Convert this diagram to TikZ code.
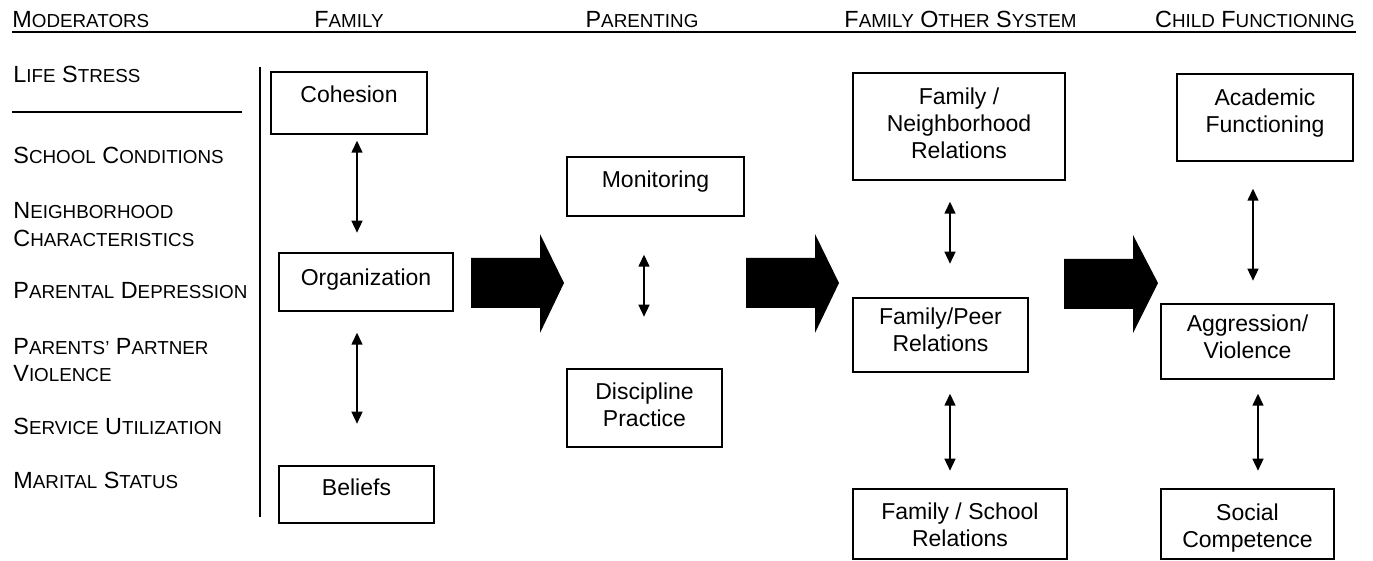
\documentclass[tikz,border=0pt]{standalone}
\usepackage{fontspec}
\setmainfont{Liberation Sans}
\usetikzlibrary{arrows.meta}
\newcommand\sml[1]{{\fontsize{9.4}{11}\selectfont #1}}
\newcommand\bt[2]{\raisebox{#1}[\height][\depth]{\begin{tabular}{@{}c@{}}#2\end{tabular}}}
\begin{document}
\begin{tikzpicture}[x=0.5pt,y=-0.5pt,
  box/.style={draw, line width=0.7pt, inner sep=0pt, font=\fontsize{11.5}{13.5}\selectfont},
  dbl/.style={line width=0.7pt, {Triangle[length=6pt,width=5.5pt]}-{Triangle[length=6pt,width=5.5pt]}},
  hdr/.style={anchor=base, inner sep=0pt, font=\fontsize{11.7}{13.5}\selectfont},
  mod/.style={anchor=base west, inner sep=0pt, font=\fontsize{11.7}{13.5}\selectfont},
  rule/.style={line width=0.8pt},
  sep/.style={line width=0.7pt},
  bigarrow/.style={fill=black}]
\useasboundingbox (0,0) rectangle (1373,561);

% headers
\node[mod] (h1) at (12,28) {M\sml{ODERATORS}};
\node[hdr] (h2) at (349,28) {F\sml{AMILY}};
\node[hdr] (h3) at (642,28) {P\sml{ARENTING}};
\node[hdr] (h4) at (960.5,28) {F\sml{AMILY} O\sml{THER} S\sml{YSTEM}};
\node[hdr] (h5) at (1255,28) {C\sml{HILD} F\sml{UNCTIONING}};
\draw[rule] (12,32) -- (1356,32);

% moderators
\node[mod] (m1) at (13,83) {L\sml{IFE} S\sml{TRESS}};
\draw[sep] (12,112) -- (242,112);
\node[mod] (m2) at (13,164) {S\sml{CHOOL} C\sml{ONDITIONS}};
\node[mod] (m3) at (13,219) {N\sml{EIGHBORHOOD}};
\node[mod] (m4) at (13,247) {C\sml{HARACTERISTICS}};
\node[mod] (m5) at (13,299) {P\sml{ARENTAL} D\sml{EPRESSION}};
\node[mod] (m6) at (13,355) {P\sml{ARENTS'} P\sml{ARTNER}};
\node[mod] (m7) at (13,382) {V\sml{IOLENCE}};
\node[mod] (m8) at (13,435) {S\sml{ERVICE} U\sml{TILIZATION}};
\node[mod] (m9) at (13,489) {M\sml{ARITAL} S\sml{TATUS}};
\draw[sep] (260,67) -- (260,517);

% family
\node[box, minimum width=78pt, minimum height=31pt] (coh) at (349,103) {\bt{2.7pt}{Cohesion}};
\node[box, minimum width=87pt, minimum height=29pt] (org) at (366,282) {\bt{0.7pt}{Organization}};
\node[box, minimum width=77.5pt, minimum height=28.5pt] (bel) at (356.5,494.5) {\bt{2pt}{Beliefs}};
\draw[dbl] ([xshift=4pt,yshift=-3pt]coh.south) -- ++(0,92);
\draw[dbl] ([xshift=-4.5pt,yshift=-10.5pt]org.south) -- ++(0,91);

% parenting
\node[box, minimum width=88.5pt, minimum height=29.5pt] (mon) at (655.5,186.5) {\bt{2pt}{Monitoring}};
\node[box, minimum width=77.5pt, minimum height=39pt] (dis) at (644.5,408) {\bt{0pt}{Discipline\\Practice}};
\draw[dbl] ([xshift=-5.75pt,yshift=-19pt]mon.south) -- ++(0,62);

% family other system
\node[box, minimum width=106pt, minimum height=53.5pt] (fn) at (959,126.5) {\bt{0pt}{Family /\\Neighborhood\\Relations}};
\node[box, minimum width=87.5pt, minimum height=37pt] (fp) at (940.5,335) {\bt{1pt}{Family/Peer\\Relations}};
\node[box, minimum width=107pt, minimum height=35pt] (fs) at (960,524) {\bt{-2pt}{Family / School\\Relations}};
\draw[dbl] ([xshift=-4.5pt,yshift=-10.5pt]fn.south) -- ++(0,62);
\draw[dbl] ([xshift=4.75pt,yshift=-10.5pt]fp.south) -- ++(0,77);

% child functioning
\node[box, minimum width=88pt, minimum height=43.5pt] (ac) at (1265,117.5) {\bt{1.7pt}{Academic\\Functioning}};
\node[box, minimum width=86.5pt, minimum height=37.5pt] (ag) at (1247.5,341.5) {\bt{1pt}{Aggression/\\Violence}};
\node[box, minimum width=86.5pt, minimum height=35pt] (sc) at (1247.5,524) {\bt{-2.5pt}{Social\\Competence}};
\draw[dbl] ([xshift=-6pt,yshift=-13.5pt]ac.south) -- ++(0,92);
\draw[dbl] ([xshift=5.25pt,yshift=-7pt]ag.south) -- ++(0,77);

% big arrows
\fill[bigarrow] (471,258) -- (540,258) -- (540,234) -- (564,283) -- (540,333) -- (540,308) -- (471,308) -- cycle;
\fill[bigarrow] (746,258) -- (815,258) -- (815,234) -- (839,283) -- (815,333) -- (815,308) -- (746,308) -- cycle;
\fill[bigarrow] (1064,259) -- (1133,259) -- (1133,235) -- (1158,283) -- (1133,333) -- (1133,309) -- (1064,309) -- cycle;
\end{tikzpicture}
\end{document}
